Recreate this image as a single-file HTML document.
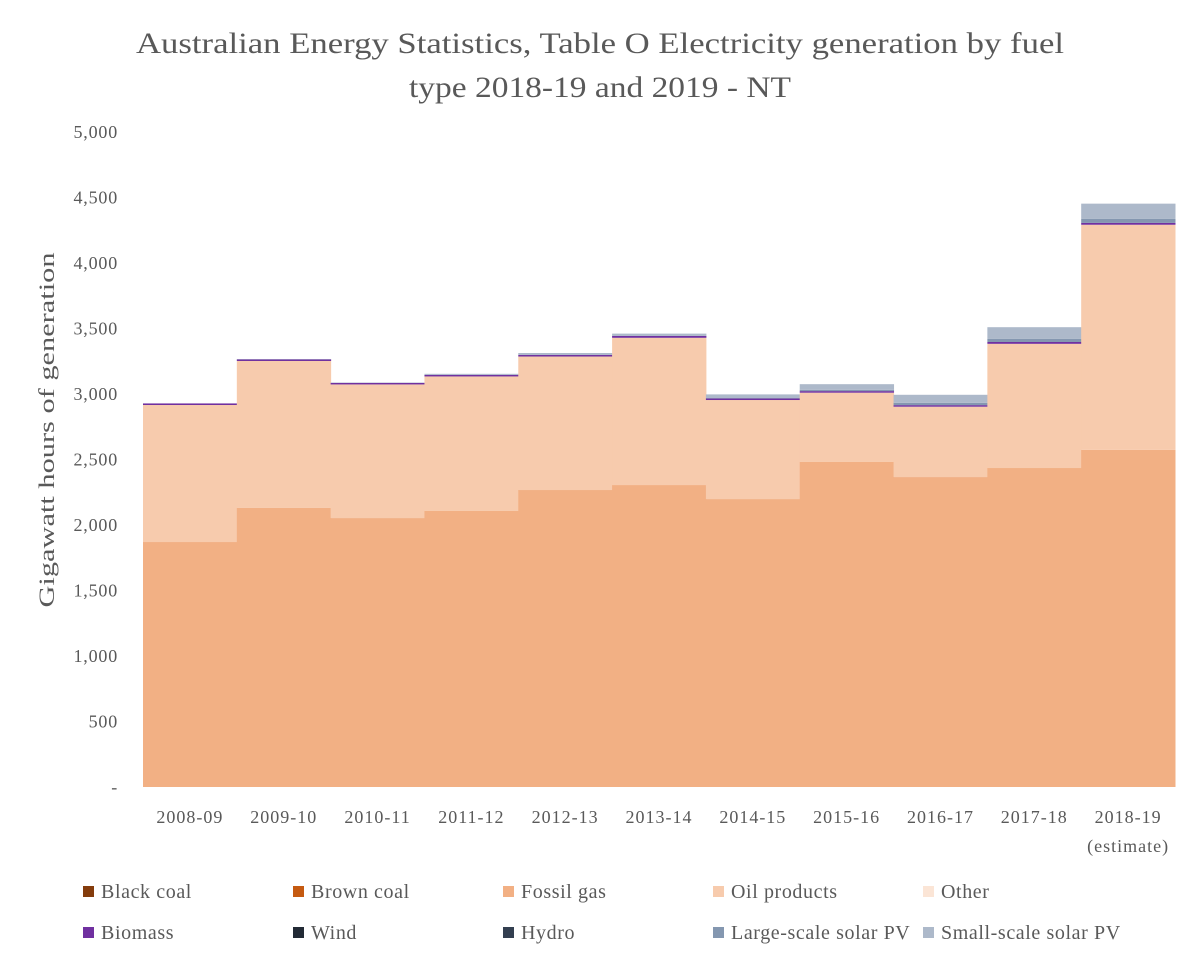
<!DOCTYPE html>
<html><head><meta charset="utf-8"><style>
body{margin:0;background:#fff;}
svg text{font-family:"Liberation Serif",serif;fill:#595959;}
</style></head><body>
<svg id="chart" width="1200" height="965" viewBox="0 0 1200 965" xmlns="http://www.w3.org/2000/svg">
<text x="600" y="53" font-size="30" text-anchor="middle" textLength="928" lengthAdjust="spacingAndGlyphs">Australian Energy Statistics, Table O Electricity generation by fuel</text>
<text x="600" y="97" font-size="30" text-anchor="middle" textLength="382" lengthAdjust="spacingAndGlyphs">type 2018-19 and 2019 - NT</text>
<text transform="translate(54,430) rotate(-90)" font-size="22" text-anchor="middle" textLength="355" lengthAdjust="spacingAndGlyphs">Gigawatt hours of generation</text>
<g id="plot"></g>
<g id="yticks"></g>
<g id="xticks"></g>
<g id="legend"></g>
</svg>
<script>
const categories=["2008-09","2009-10","2010-11","2011-12","2012-13","2013-14","2014-15","2015-16","2016-17","2017-18","2018-19"];
const seriesNames=["Black coal","Brown coal","Fossil gas","Oil products","Other","Biomass","Wind","Hydro","Large-scale solar PV","Small-scale solar PV"];
const blackCoal=[0,0,0,0,0,0,0,0,0,0,0];
const brownCoal=[0,0,0,0,0,0,0,0,0,0,0];
const fossilGas=[1870,2130,2053,2107,2267,2305,2198,2481,2366,2435,2573];
const oilProducts=[1046,1122,1020,1027,1019,1124,756,529,537,948,1719];
const other=[0,0,0,0,0,0,0,0,0,0,0];
const biomass=[12,12,12,12,12,14,12,12,12,14,14];
const wind=[0,0,0,0,0,0,0,0,0,0,0];
const hydro=[0,0,0,0,0,0,0,0,0,0,0];
const largeSolar=[0,0,0,0,0,0,3,10,18,25,32];
const smallSolar=[0,3,3,8,15,18,28,43,61,88,115];
const yTicks=[0,500,1000,1500,2000,2500,3000,3500,4000,4500,5000];
const yTickLabels=["-","500","1,000","1,500","2,000","2,500","3,000","3,500","4,000","4,500","5,000"];
const colors=["#843C0C","#C55A11","#F2B084","#F7CBAD","#FBE5D6","#7030A0","#222A35","#333F50","#8497B0","#ADB9CA"];
const NS="http://www.w3.org/2000/svg";
const X0=143,X1=1175,Y0=787,Y1=132,YMAX=5000;
const bw=(X1-X0)/categories.length;
const xs=i=>X0+i*bw;
const ys=v=>Y0-(v/YMAX)*(Y0-Y1);
function mk(tag,attrs,parent){const e=document.createElementNS(NS,tag);for(const k in attrs)e.setAttribute(k,attrs[k]);parent.appendChild(e);return e;}
const data=[blackCoal,brownCoal,fossilGas,oilProducts,other,biomass,wind,hydro,largeSolar,smallSolar];
const plot=document.getElementById('plot');
for(let i=0;i<categories.length;i++){
  let cum=0;
  for(let s=0;s<data.length;s++){
    const v=data[s][i];
    if(v>0){
      const r=mk('rect',{x:xs(i),y:ys(cum+v),width:bw+0.5,height:ys(cum)-ys(cum+v),fill:colors[s]},plot);
      
      
    }
    cum+=v;
  }
}
const yg=document.getElementById('yticks');
yTicks.forEach((t,k)=>{
  const tx=mk('text',{x:118,y:ys(t)+6,'font-size':18,'text-anchor':'end','letter-spacing':'0.8'},yg);
  tx.textContent=yTickLabels[k];
  
  
});
const xg=document.getElementById('xticks');
categories.forEach((c,i)=>{
  const tx=mk('text',{x:xs(i)+bw/2,y:823,'font-size':18,'text-anchor':'middle','letter-spacing':'1'},xg);
  tx.textContent=c;
  
  
  if(i===categories.length-1){
    const t2=mk('text',{x:xs(i)+bw/2,y:852,'font-size':18,'text-anchor':'middle','letter-spacing':'1'},xg);
    t2.textContent="(estimate)";
    
    
  }
});
const lg=document.getElementById('legend');
seriesNames.forEach((n,s)=>{
  const col=s%5,row=Math.floor(s/5);
  const lx=83+col*210,ly=892+row*41;
  const g=mk('g',{},lg);
  
  
  mk('rect',{x:lx,y:ly-6,width:11,height:11,fill:colors[s]},g);
  const t=mk('text',{x:lx+18,y:ly+6,'font-size':20,'letter-spacing':'0.6'},g);
  t.textContent=n;
});
</script>
</body></html>
